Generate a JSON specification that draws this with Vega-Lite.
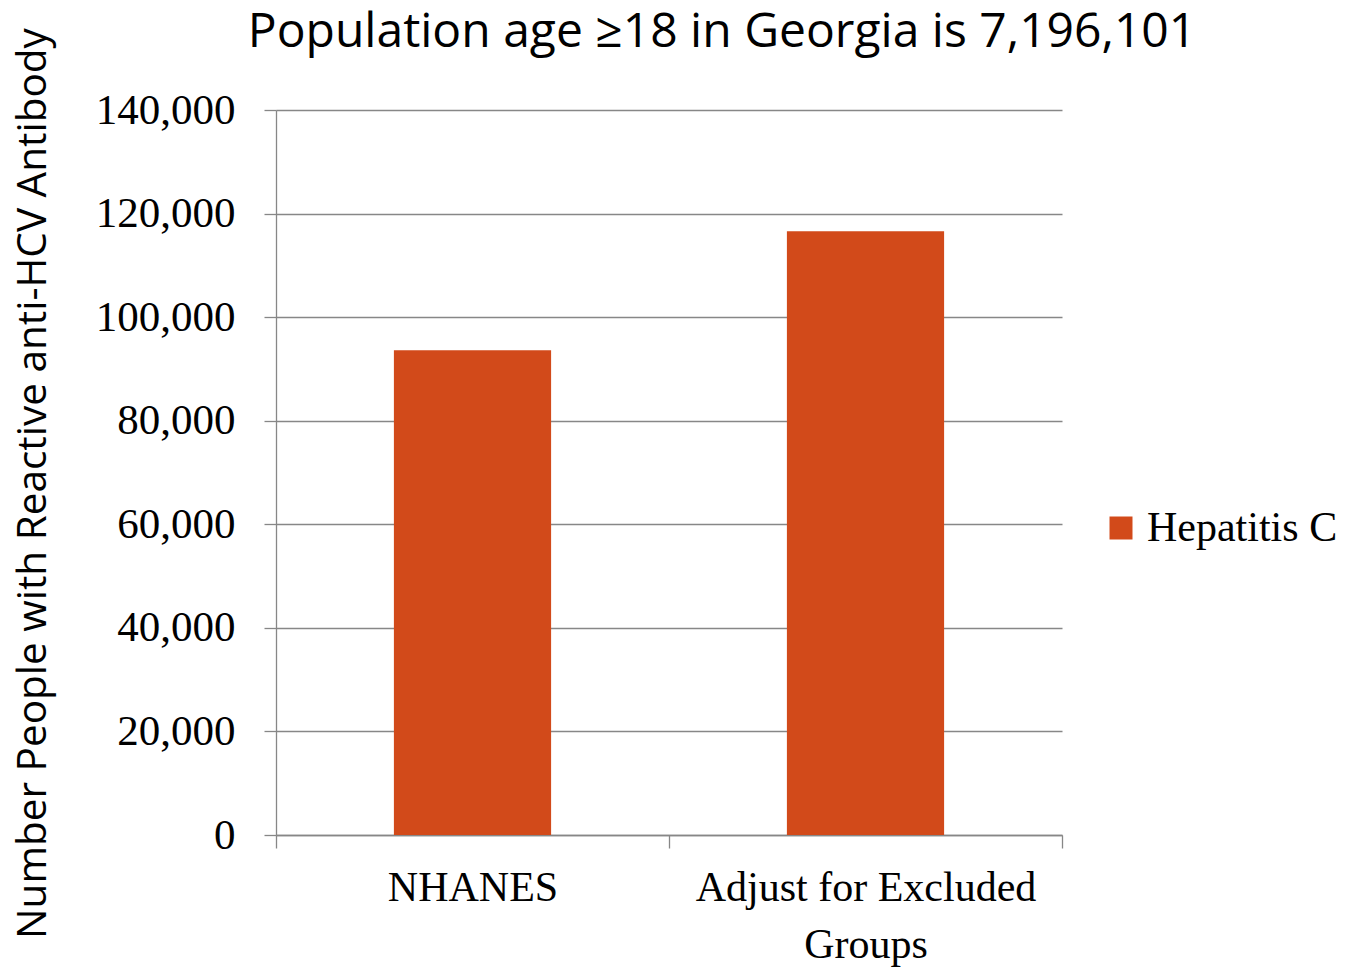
{
  "$schema": "https://vega.github.io/schema/vega-lite/v6.json",
  "width": 786,
  "height": 725,
  "autosize": {"type": "none"},
  "padding": {"left": 276, "top": 110, "right": 283, "bottom": 134},
  "background": "white",
  "title": {
    "text": "Population age ≥18 in Georgia is 7,196,101",
    "font": "Open Sans",
    "fontSize": 48,
    "fontWeight": "normal",
    "color": "black",
    "anchor": "middle",
    "frame": "group",
    "dx": 53,
    "offset": -67,
    "baseline": "alphabetic"
  },
  "data": {
    "values": [
      {"group": "NHANES", "people": 93600, "series": "Hepatitis C"},
      {"group": "Adjust for Excluded Groups", "people": 116600, "series": "Hepatitis C"}
    ]
  },
  "mark": {"type": "bar", "width": {"band": 0.4}},
  "encoding": {
    "x": {
      "field": "group",
      "type": "nominal",
      "sort": null,
      "scale": {"paddingInner": 0, "paddingOuter": 0},
      "axis": {
        "title": null,
        "labelFont": "Liberation Serif",
        "labelFontSize": 42,
        "labelColor": "black",
        "labelAngle": 0,
        "labelLimit": 0,
        "tickBand": "extent",
        "tickSize": 13,
        "tickWidth": 1.3,
        "labelPadding": 19,
        "labelLineHeight": 57,
        "labelBaseline": "top",
        "labelExpr": "datum.value == 'Adjust for Excluded Groups' ? ['Adjust for Excluded', 'Groups'] : datum.label",
        "domainColor": "#878787",
        "domainWidth": 1.3,
        "tickColor": "#878787"
      }
    },
    "y": {
      "field": "people",
      "type": "quantitative",
      "scale": {"domain": [0, 140000], "nice": false},
      "axis": {
        "title": "Number People with Reactive anti-HCV Antibody",
        "titleFont": "Open Sans",
        "titleFontSize": 40.5,
        "titleFontWeight": "normal",
        "titleColor": "black",
        "titleAngle": -90,
        "titleX": -231,
        "titleY": 373,
        "titleAlign": "center",
        "titleBaseline": "alphabetic",
        "labelFont": "Liberation Serif",
        "labelFontSize": 43,
        "labelColor": "black",
        "labelLimit": 0,
        "labelPadding": 29,
        "values": [0, 20000, 40000, 60000, 80000, 100000, 120000, 140000],
        "format": ",.0f",
        "grid": true,
        "gridColor": "#878787",
        "gridWidth": 1.3,
        "tickSize": 12,
        "tickColor": "#878787",
        "tickWidth": 1.3,
        "domainColor": "#878787",
        "domainWidth": 1.3
      }
    },
    "color": {
      "field": "series",
      "type": "nominal",
      "scale": {"range": ["#D24A1A"]},
      "legend": {
        "title": null,
        "orient": "none",
        "legendX": 824,
        "legendY": 397,
        "symbolType": "square",
        "symbolSize": 529,
        "symbolStrokeWidth": 0,
        "labelFont": "Liberation Serif",
        "labelFontSize": 42,
        "labelColor": "black",
        "labelOffset": 5,
        "labelLimit": 0,
        "padding": 0
      }
    }
  },
  "config": {"view": {"stroke": null}}
}
